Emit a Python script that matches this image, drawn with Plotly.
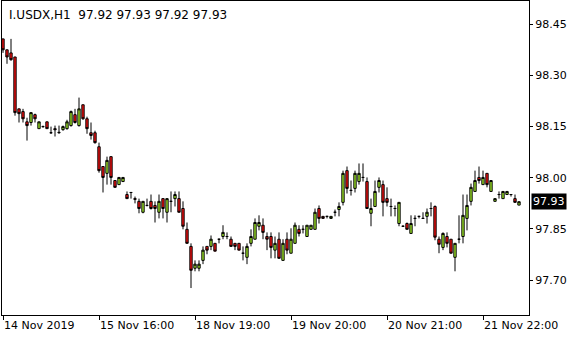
import plotly.graph_objects as go

# OHLC of I.USDX H1 bars, bar index 0..129
opens = [98.407, 98.375, 98.366, 98.354, 98.202, 98.194, 98.164, 98.162, 98.185, 98.144,
         98.150, 98.164, 98.132, 98.144, 98.132, 98.141, 98.144, 98.153, 98.185, 98.153,
         98.214, 98.173, 98.132, 98.132, 98.091, 98.033, 98.013, 98.062, 97.992, 97.980,
         97.989, 97.951, 97.957, 97.939, 97.931, 97.899, 97.919, 97.931, 97.919, 97.899,
         97.939, 97.899, 97.931, 97.939, 97.939, 97.910, 97.849, 97.799, 97.735, 97.735,
         97.758, 97.799, 97.799, 97.808, 97.820, 97.828, 97.828, 97.820, 97.808, 97.808,
         97.779, 97.767, 97.808, 97.820, 97.858, 97.861, 97.828, 97.828, 97.788, 97.820,
         97.758, 97.820, 97.779, 97.808, 97.849, 97.849, 97.828, 97.849, 97.849, 97.910,
         97.887, 97.887, 97.881, 97.899, 97.907, 97.928, 98.021, 97.963, 97.969, 97.989,
         98.001, 97.989, 97.896, 97.916, 97.972, 97.980, 97.939, 97.916, 97.910, 97.866,
         97.858, 97.866, 97.837, 97.881, 97.887, 97.881, 97.887, 97.910, 97.916, 97.820,
         97.796, 97.828, 97.820, 97.767, 97.820, 97.828, 97.881, 97.931, 97.960, 98.001,
         97.980, 98.013, 97.960, 97.931, 97.951, 97.939, 97.951, 97.951, 97.939, 97.920]
highs = [98.407, 98.375, 98.407, 98.354, 98.202, 98.202, 98.176, 98.191, 98.188, 98.164,
         98.153, 98.164, 98.150, 98.153, 98.153, 98.153, 98.170, 98.197, 98.202, 98.235,
         98.214, 98.179, 98.162, 98.138, 98.103, 98.033, 98.062, 98.062, 97.992, 98.001,
         98.001, 97.960, 97.957, 97.945, 97.939, 97.931, 97.939, 97.951, 97.931, 97.951,
         97.939, 97.939, 97.960, 97.960, 97.960, 97.931, 97.869, 97.808, 97.758, 97.758,
         97.799, 97.799, 97.831, 97.808, 97.820, 97.861, 97.840, 97.828, 97.808, 97.808,
         97.799, 97.808, 97.849, 97.881, 97.890, 97.881, 97.840, 97.840, 97.828, 97.840,
         97.820, 97.840, 97.852, 97.869, 97.861, 97.861, 97.861, 97.861, 97.910, 97.919,
         97.887, 97.887, 97.887, 97.907, 97.928, 98.021, 98.033, 97.992, 98.021, 98.042,
         98.042, 98.001, 97.939, 97.992, 98.001, 97.992, 97.972, 97.939, 97.919, 97.928,
         97.860, 97.869, 97.890, 97.890, 97.887, 97.899, 97.910, 97.928, 97.919, 97.828,
         97.840, 97.840, 97.820, 97.808, 97.890, 97.951, 97.951, 97.983, 98.021, 98.033,
         98.021, 98.013, 97.992, 97.939, 97.960, 97.960, 97.960, 97.951, 97.951, 97.930]
lows = [98.366, 98.334, 98.343, 98.182, 98.162, 98.162, 98.109, 98.153, 98.162, 98.144,
        98.147, 98.144, 98.129, 98.121, 98.129, 98.138, 98.141, 98.150, 98.159, 98.150,
        98.170, 98.129, 98.112, 98.100, 98.015, 97.957, 97.980, 97.980, 97.972, 97.980,
        97.989, 97.939, 97.939, 97.925, 97.896, 97.896, 97.916, 97.907, 97.869, 97.881,
        97.881, 97.869, 97.899, 97.916, 97.899, 97.849, 97.808, 97.677, 97.726, 97.726,
        97.747, 97.776, 97.788, 97.785, 97.808, 97.820, 97.820, 97.799, 97.788, 97.788,
        97.758, 97.747, 97.799, 97.820, 97.846, 97.820, 97.788, 97.764, 97.764, 97.764,
        97.758, 97.776, 97.779, 97.808, 97.828, 97.837, 97.828, 97.849, 97.849, 97.866,
        97.881, 97.881, 97.881, 97.887, 97.887, 97.919, 97.954, 97.948, 97.957, 97.980,
        97.989, 97.910, 97.858, 97.916, 97.957, 97.887, 97.916, 97.887, 97.887, 97.858,
        97.856, 97.849, 97.837, 97.858, 97.881, 97.881, 97.866, 97.887, 97.817, 97.779,
        97.788, 97.796, 97.779, 97.726, 97.808, 97.808, 97.846, 97.919, 97.960, 97.983,
        97.980, 97.972, 97.960, 97.931, 97.939, 97.939, 97.951, 97.945, 97.928, 97.920]
closes = [98.375, 98.354, 98.346, 98.191, 98.188, 98.173, 98.153, 98.191, 98.173, 98.164,
          98.150, 98.144, 98.132, 98.141, 98.133, 98.150, 98.164, 98.194, 98.162, 98.202,
          98.173, 98.144, 98.124, 98.103, 98.021, 98.001, 98.051, 98.001, 97.972, 98.001,
          98.001, 97.939, 97.957, 97.937, 97.910, 97.931, 97.919, 97.910, 97.910, 97.931,
          97.910, 97.939, 97.931, 97.951, 97.899, 97.858, 97.808, 97.729, 97.747, 97.747,
          97.788, 97.788, 97.820, 97.785, 97.820, 97.840, 97.828, 97.799, 97.799, 97.788,
          97.779, 97.799, 97.828, 97.869, 97.869, 97.840, 97.820, 97.796, 97.808, 97.764,
          97.808, 97.788, 97.820, 97.861, 97.837, 97.849, 97.861, 97.861, 97.899, 97.881,
          97.881, 97.887, 97.887, 97.899, 97.916, 98.013, 97.969, 97.963, 98.013, 98.013,
          98.001, 97.910, 97.910, 97.960, 97.992, 97.928, 97.928, 97.916, 97.910, 97.928,
          97.858, 97.849, 97.866, 97.881, 97.887, 97.881, 97.899, 97.910, 97.826, 97.805,
          97.837, 97.808, 97.779, 97.808, 97.820, 97.890, 97.919, 97.972, 97.992, 97.992,
          98.001, 97.980, 97.992, 97.939, 97.951, 97.960, 97.960, 97.951, 97.928, 97.930]
bar_index = list(range(len(opens)))

time_tick_bars = [0, 24, 48, 72, 96, 120]
time_tick_labels = ["14 Nov 2019", "15 Nov 16:00", "18 Nov 19:00",
                    "19 Nov 20:00", "20 Nov 21:00", "21 Nov 22:00"]
price_ticks = [97.70, 97.85, 98.00, 98.15, 98.30, 98.45]
symbol = "I.USDX,H1"
last_ohlc = ["97.92", "97.93", "97.92", "97.93"]
last_price = 97.93

FONT = "DejaVu Sans"

fig = go.Figure(go.Candlestick(
    x=bar_index, open=opens, high=highs, low=lows, close=closes,
    increasing=dict(fillcolor="#A6F22A", line=dict(color="black", width=1)),
    decreasing=dict(fillcolor="#FF1010", line=dict(color="black", width=1)),
    whiskerwidth=0, hoverinfo="skip", showlegend=False,
))

fig.update_layout(
    width=580, height=340,
    margin=dict(l=2, r=51, t=1, b=25),
    paper_bgcolor="white", plot_bgcolor="white",
    boxgap=0.42, boxgroupgap=0,
    font=dict(family=FONT, size=11, color="black"),
    xaxis=dict(
        range=[-0.25, 131.5], rangeslider=dict(visible=False),
        showgrid=False, zeroline=False,
        showline=True, linecolor="black", linewidth=1, mirror=True,
        tickmode="array", tickvals=time_tick_bars, ticktext=time_tick_labels,
        ticks="outside", ticklen=4, tickcolor="black",
        ticklabelposition="outside right",
        tickfont=dict(family=FONT, size=11, color="black"),
    ),
    yaxis=dict(
        range=[97.598, 98.518], side="right",
        showgrid=False, zeroline=False,
        showline=True, linecolor="black", linewidth=1, mirror=True,
        tickmode="array", tickvals=price_ticks,
        ticktext=[f"{v:.2f}" for v in price_ticks],
        ticks="outside", ticklen=3, tickcolor="black",
        tickfont=dict(family=FONT, size=11, color="black"),
    ),
    annotations=[
        dict(text=symbol + "  " + " ".join(last_ohlc), xref="paper", yref="paper",
             x=0.009, y=0.955, xanchor="left", yanchor="middle", showarrow=False,
             font=dict(family=FONT, size=12, color="black")),
        dict(text=f"{last_price:.2f}", xref="paper", yref="y",
             x=1.0, y=last_price, xanchor="left", yanchor="middle", xshift=2,
             showarrow=False, bgcolor="black", borderpad=1,
             font=dict(family=FONT, size=11, color="white")),
    ],
)

fig.write_html("out.html")
